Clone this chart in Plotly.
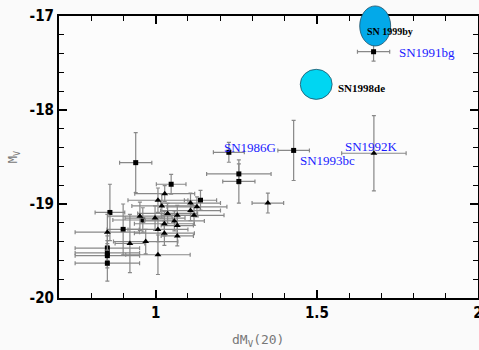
import plotly.graph_objects as go

# ---- data ----
sq_x = [0.858, 0.850, 0.850, 0.850, 0.850, 0.899, 0.960, 1.048, 1.139, 0.938,
        1.227, 1.258, 1.258, 1.428, 1.676]
sq_y = [-19.09, -19.47, -19.52, -19.55, -19.63, -19.27, -19.17, -18.79, -18.96, -18.56,
        -18.45, -18.68, -18.76, -18.43, -17.38]
sq_ex = [0.046, 0.10, 0.10, 0.10, 0.10, 0.05, 0.093, 0.046, 0.05, 0.05,
         0.048, 0.10, 0.05, 0.049, 0.05]
sq_ey = [0.30, 0.13, 0.13, 0.13, 0.19, 0.27, 0.13, 0.106, 0.106, 0.32,
         0.106, 0.106, 0.23, 0.32, 0.10]

tri_x = [1.348, 0.850, 0.920, 0.969, 0.951, 1.007, 1.007, 1.007, 0.998, 1.019,
         1.028, 1.027, 1.027, 1.037, 1.058, 1.067, 1.067, 1.067, 1.108, 1.108,
         1.119, 1.128, 1.677]
tri_y = [-18.99, -19.30, -19.42, -19.40, -19.13, -19.54, -19.27, -18.96, -19.15, -19.02,
         -18.89, -19.31, -19.21, -19.10, -19.18, -19.23, -19.34, -19.12, -18.99, -19.07,
         -19.12, -19.03, -18.46]
tri_ex = [0.049, 0.10, 0.046, 0.10, 0.10, 0.10, 0.093, 0.093, 0.093, 0.093,
          0.093, 0.093, 0.093, 0.093, 0.093, 0.05, 0.05, 0.05, 0.093, 0.093,
          0.093, 0.093, 0.10]
tri_ey = [0.106, 0.19, 0.31, 0.13, 0.15, 0.21, 0.13, 0.13, 0.13, 0.13,
          0.085, 0.13, 0.13, 0.106, 0.106, 0.106, 0.106, 0.106, 0.106, 0.106,
          0.106, 0.106, 0.40]

# highlighted objects (ellipses): centre and half-extent in data units
ell_names = ["SN 1999by", "SN1998de"]
ell_x = [1.681, 1.498]
ell_y = [-17.106, -17.727]
ell_rx = [0.048, 0.0495]
ell_ry = [0.213, 0.16]
ell_colors = ["#03a9e9", "#00d6f2"]
ell_label_x = [1.650, 1.558]
ell_label_y = [-17.17, -17.766]
ell_label_size = [10, 11]

# blue labels
lab_text = ["SN1991bg", "SN1986G", "SN1993bc", "SN1992K"]
lab_x = [1.750, 1.205, 1.443, 1.582]
lab_y = [-17.39, -18.394, -18.54, -18.383]

x_range = [0.7, 2.0]
y_range = [-20, -17]

fig = go.Figure()

err_style = dict(type="data", color="#888888", thickness=1.2, width=2)

fig.add_trace(go.Scatter(
    x=sq_x, y=sq_y, mode="markers",
    marker=dict(symbol="square", size=5, color="black"),
    error_x=dict(array=sq_ex, **err_style),
    error_y=dict(array=sq_ey, **err_style),
    showlegend=False, hoverinfo="skip"))

fig.add_trace(go.Scatter(
    x=tri_x, y=tri_y, mode="markers",
    marker=dict(symbol="triangle-up", size=6, color="black"),
    error_x=dict(array=tri_ex, **err_style),
    error_y=dict(array=tri_ey, **err_style),
    showlegend=False, hoverinfo="skip"))


def y_dom(v):
    # position along the y axis as a fraction of its domain (lets the shape overflow the frame)
    return (v - y_range[0]) / (y_range[1] - y_range[0])


for i in range(len(ell_x)):
    fig.add_shape(type="circle", xref="x", yref="y domain",
                  x0=ell_x[i] - ell_rx[i], x1=ell_x[i] + ell_rx[i],
                  y0=y_dom(ell_y[i] - ell_ry[i]), y1=y_dom(ell_y[i] + ell_ry[i]),
                  fillcolor=ell_colors[i], line=dict(color="#1f4f66", width=0.8),
                  layer="above")
    fig.add_annotation(x=ell_label_x[i], y=ell_label_y[i], text="<b>%s</b>" % ell_names[i],
                       showarrow=False, xanchor="left", yanchor="middle",
                       font=dict(family="Liberation Serif, DejaVu Serif, serif",
                                 size=ell_label_size[i], color="black"))

for t, x, y in zip(lab_text, lab_x, lab_y):
    fig.add_annotation(x=x, y=y, text=t, showarrow=False, xanchor="left", yanchor="middle",
                       font=dict(family="Liberation Serif, DejaVu Serif, serif",
                                 size=13, color="#1a1aff"))

tickfont = dict(family="Liberation Sans Narrow, DejaVu Sans Condensed, Arial Narrow, sans-serif",
                size=15, color="black", weight="bold")

fig.update_xaxes(range=x_range, tickvals=[1, 1.5, 2], ticktext=["1", "1.5", "2"],
                 ticks="inside", ticklen=8, tickwidth=1.5, tickcolor="black",
                 minor=dict(dtick=0.1, tick0=0.7, ticks="inside", ticklen=5,
                            tickwidth=1.2, tickcolor="black"),
                 showline=True, linecolor="black", linewidth=2, mirror="ticks",
                 showgrid=False, zeroline=False, tickfont=tickfont,
                 ticklabeloverflow="allow", automargin=False)
fig.update_yaxes(range=y_range, tickvals=[-20, -19, -18, -17],
                 ticktext=["-20", "-19", "-18", "-17"],
                 ticks="inside", ticklen=8, tickwidth=1.5, tickcolor="black",
                 minor=dict(dtick=0.2, tick0=-20, ticks="inside", ticklen=5,
                            tickwidth=1.2, tickcolor="black"),
                 showline=True, linecolor="black", linewidth=2, mirror="ticks",
                 showgrid=False, zeroline=False, tickfont=tickfont, automargin=False)

fig.add_annotation(xref="paper", yref="paper", x=0.475, y=-0.149,
                   text="dM<sub>V</sub>(20)", showarrow=False,
                   xanchor="center", yanchor="middle",
                   font=dict(family="DejaVu Sans Mono, monospace", size=13, color="#777777"))
fig.add_annotation(xref="paper", yref="paper", x=-0.107, y=0.5,
                   text="M<sub>V</sub>", showarrow=False, textangle=-90,
                   xanchor="center", yanchor="middle",
                   font=dict(family="DejaVu Sans Mono, monospace", size=12, color="#777777"))

fig.update_layout(width=479, height=350,
                  margin=dict(l=59, r=1, t=16, b=52),
                  paper_bgcolor="#fafafa", plot_bgcolor="#fcfcfc")

fig.write_html("out.html", config={"displayModeBar": False},
               post_script="document.body.style.margin='0';document.body.style.background='#fafafa';")
